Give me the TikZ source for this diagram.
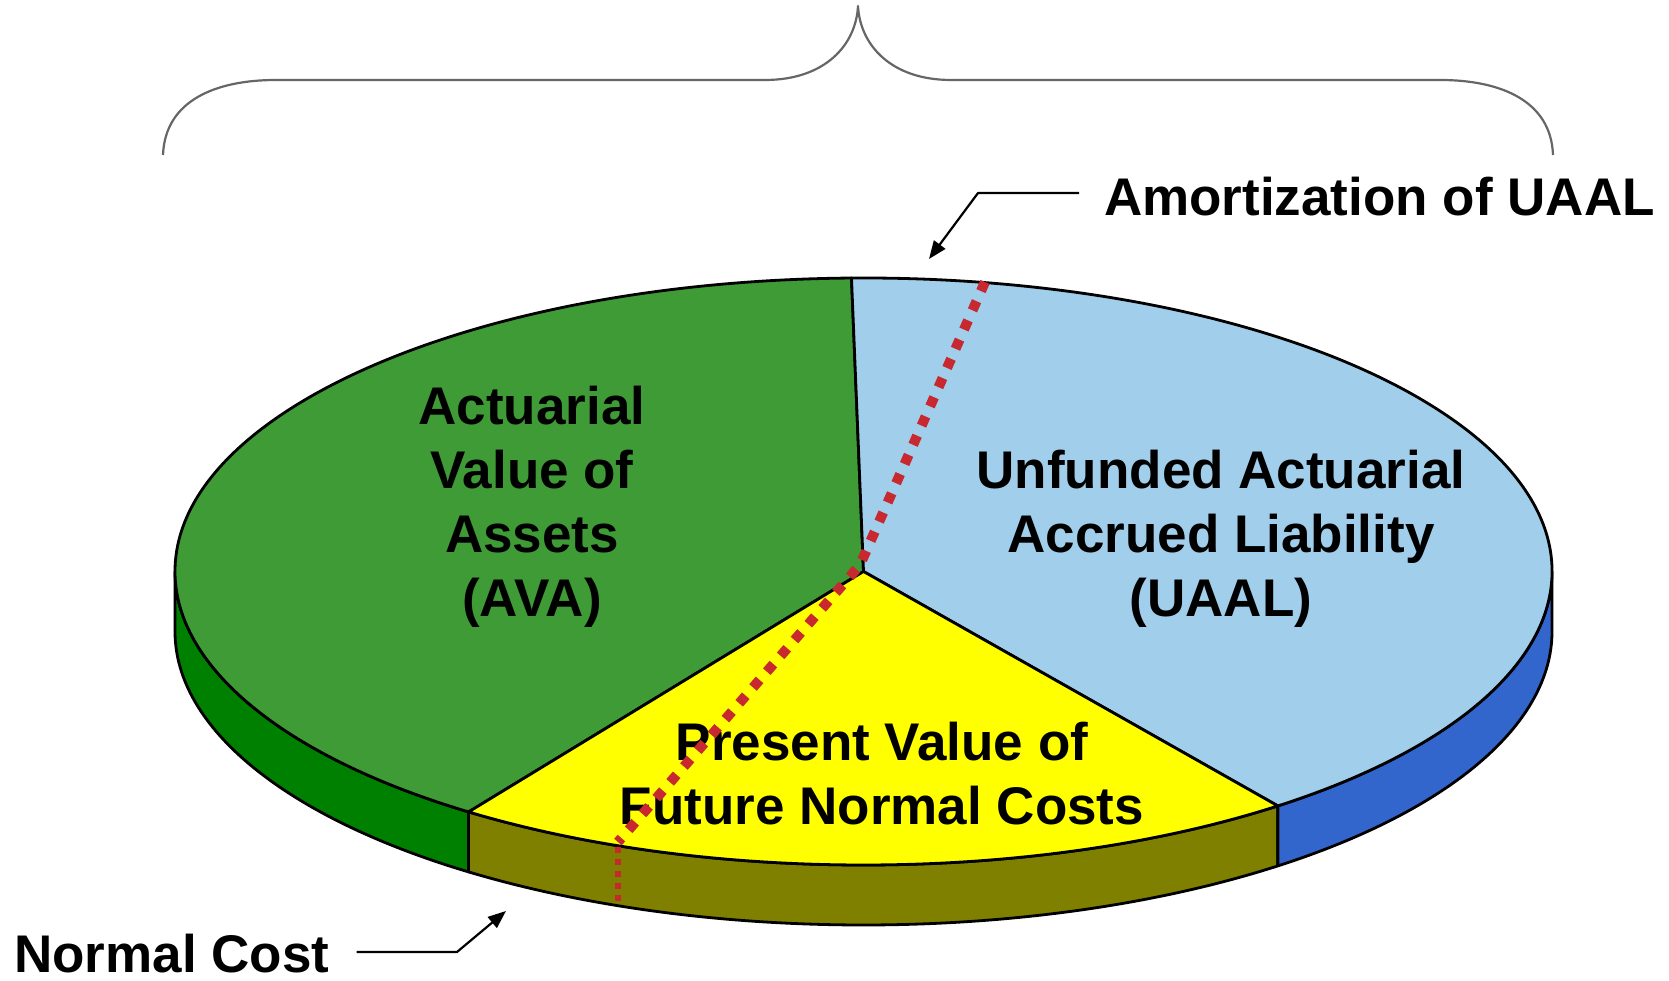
\documentclass[tikz,border=0pt]{standalone}
\usepackage{fontspec}
\setmainfont{Liberation Sans}
\usetikzlibrary{arrows.meta}
\definecolor{gtop}{HTML}{3F9B36}
\definecolor{gside}{HTML}{008000}
\definecolor{btop}{HTML}{A1CEEA}
\definecolor{bside}{HTML}{3366CC}
\definecolor{ytop}{HTML}{FFFF00}
\definecolor{yside}{HTML}{808000}
\definecolor{dotred}{HTML}{C8282F}
\definecolor{bracegray}{HTML}{666666}
\begin{document}
\begin{tikzpicture}[x=1pt,y=1pt,line join=round,
  pieedge/.style={draw=black,line width=2.8pt},
  ell/.style={x radius=688.5pt,y radius=293.5pt},
  lbl/.style={font=\fontsize{53}{64}\selectfont\bfseries,align=center,inner sep=0pt},
  leader/.style={draw=black,line width=2.2pt,-{Triangle[length=18pt,width=14pt]}},
  dotsbig/.style={draw=dotred,line width=10pt,dash pattern=on 10pt off 11pt},
  dotssmall/.style={draw=dotred,line width=6pt,dash pattern=on 6pt off 6pt},
  bracestyle/.style={draw=bracegray,line width=2.2pt}]
\useasboundingbox (0,0) rectangle (1669,981);

% brace
\draw[bracestyle] (163,826) .. controls (165,880) and (215,901) .. (276,901)
  -- (765,901) .. controls (825,901) and (856,936) .. (858,975)
  .. controls (860,936) and (891,901) .. (951,901)
  -- (1440,901) .. controls (1501,901) and (1551,880) .. (1553,826);

\begin{scope}[shift={(863.5,409.5)}]
\coordinate (apex) at (0,0);
% sides
\filldraw[pieedge,fill=gside] (180:688.5pt and 293.5pt) arc[start angle=180,end angle=235,ell]
  -- ++(0,-60) arc[start angle=235,end angle=180,ell] -- cycle;
\filldraw[pieedge,fill=yside] (235:688.5pt and 293.5pt) arc[start angle=235,end angle=307,ell]
  -- ++(0,-60) arc[start angle=307,end angle=235,ell] -- cycle;
\filldraw[pieedge,fill=bside] (307:688.5pt and 293.5pt) arc[start angle=307,end angle=360,ell]
  -- ++(0,-60) arc[start angle=360,end angle=307,ell] -- cycle;
% top slices
\filldraw[pieedge,fill=gtop] (apex) -- (91:688.5pt and 293.5pt) arc[start angle=91,end angle=235,ell] -- cycle;
\filldraw[pieedge,fill=btop] (apex) -- (-53:688.5pt and 293.5pt) arc[start angle=-53,end angle=91,ell] -- cycle;
\filldraw[pieedge,fill=ytop] (apex) -- (235:688.5pt and 293.5pt) arc[start angle=235,end angle=307,ell] -- cycle;
\end{scope}

% labels
\node[lbl] (ava) at (532,474) {Actuarial\\Value of\\Assets\\(AVA)};
\node[lbl] (uaal) at (1221,442) {Unfunded Actuarial\\Accrued Liability\\(UAAL)};
\node[lbl] (pvfnc) at (882,207) {Present Value of\\Future Normal Costs};

% red dotted line
\coordinate (r1) at (985,699);
\coordinate (r2) at (860,416);
\coordinate (r3) at (618,139);
\coordinate (r4) at (618,134);
\coordinate (r5) at (618,78);
\draw[dotsbig] (r1) -- (r2) -- (r3);
\draw[dotssmall] (r4) -- (r5);

% callouts
\node[lbl,anchor=west] (amort) at (1104,784) {Amortization of UAAL};
\coordinate (amortBend) at (978,788);
\coordinate (amortTip) at (929,722);
\draw[leader] ([shift={(-25,4)}]amort.west) -- (amortBend) -- (amortTip);

\node[lbl,anchor=west] (normal) at (14,27) {Normal Cost};
\coordinate (normalBend) at (457,29);
\coordinate (normalTip) at (506,70);
\draw[leader] ([shift={(27,2)}]normal.east) -- (normalBend) -- (normalTip);
\end{tikzpicture}
\end{document}
